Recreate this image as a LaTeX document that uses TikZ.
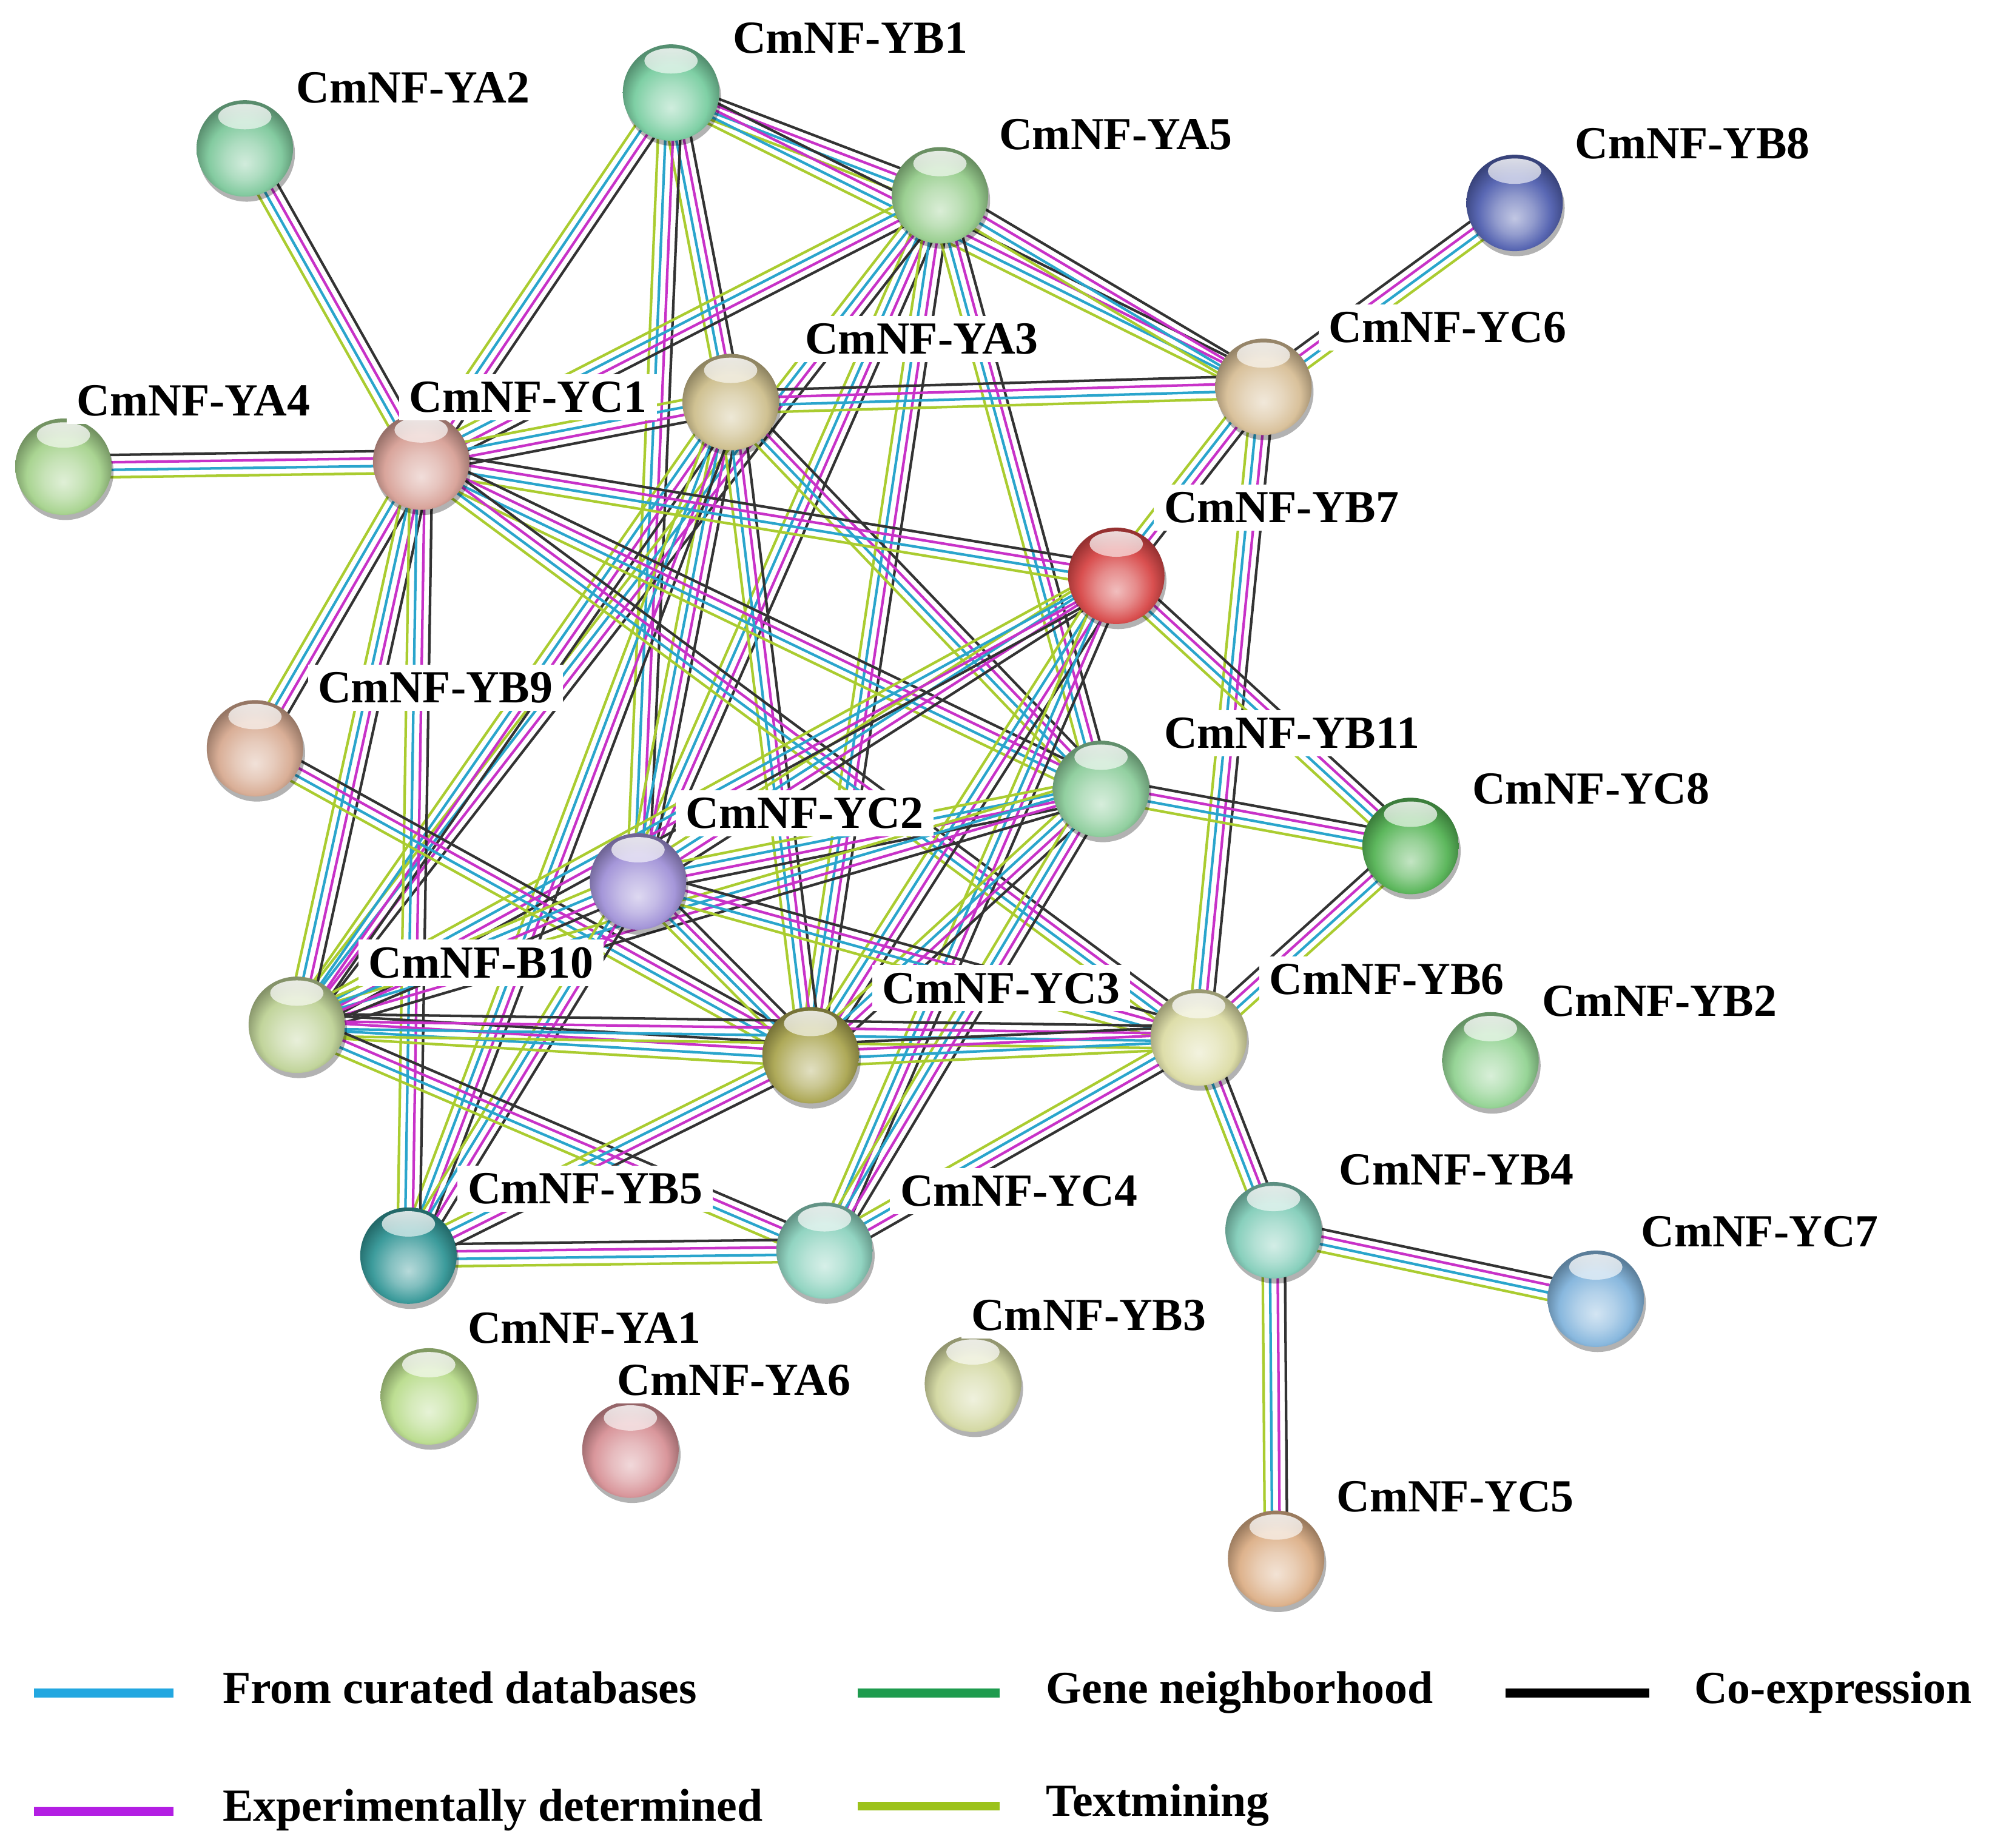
\documentclass[tikz,border=0pt]{standalone}
\usepackage{fontspec}
\setmainfont{Liberation Serif}
\usetikzlibrary{calc,fadings}

\definecolor{ecoexc}{HTML}{333333}
\definecolor{eexpc}{HTML}{C832C8}
\definecolor{ecurc}{HTML}{2AA5CC}
\definecolor{etxtc}{HTML}{AACC30}
\definecolor{lcur}{HTML}{22A7E0}
\definecolor{lgen}{HTML}{1E9B4E}
\definecolor{lexp}{HTML}{B31EE3}
\definecolor{ltxt}{HTML}{9CC21B}

\definecolor{cYB1}{RGB}{120,205,160}
\definecolor{cYA2}{RGB}{125,200,155}
\definecolor{cYA5}{RGB}{150,205,140}
\definecolor{cYB8}{RGB}{80,95,175}
\definecolor{cYC6}{RGB}{215,190,150}
\definecolor{cYA3}{RGB}{205,190,140}
\definecolor{cYA4}{RGB}{165,210,140}
\definecolor{cYC1}{RGB}{215,160,150}
\definecolor{cYB7}{RGB}{215,70,70}
\definecolor{cYB9}{RGB}{215,170,145}
\definecolor{cYB11}{RGB}{140,205,155}
\definecolor{cYC8}{RGB}{85,180,85}
\definecolor{cYC2}{RGB}{160,145,215}
\definecolor{cB10}{RGB}{190,210,150}
\definecolor{cYC3}{RGB}{170,165,80}
\definecolor{cYB6}{RGB}{220,220,165}
\definecolor{cYB2}{RGB}{145,210,145}
\definecolor{cYB5}{RGB}{50,150,150}
\definecolor{cYC4}{RGB}{140,210,190}
\definecolor{cYB4}{RGB}{130,205,185}
\definecolor{cYC7}{RGB}{130,180,220}
\definecolor{cYA1}{RGB}{185,220,140}
\definecolor{cYA6}{RGB}{215,145,150}
\definecolor{cYB3}{RGB}{210,215,160}
\definecolor{cYC5}{RGB}{220,175,135}

\colorlet{mycol}{gray}
\pgfdeclareradialshading[mycol]{glossy}{\pgfpoint{0bp}{-8bp}}{%
 color(0bp)=(mycol!35!white); color(10bp)=(mycol!62!white); color(19bp)=(mycol!95!white); color(27bp)=(mycol!70!black); color(50bp)=(mycol!70!black)}
\tikzfading[name=hlfade, top color=transparent!15, bottom color=transparent!100]

\pgfdeclarelayer{bgl}\pgfdeclarelayer{edgel}\pgfdeclarelayer{shl}\pgfdeclarelayer{lab}
\pgfsetlayers{bgl,edgel,shl,main,lab}

\newcommand{\lnk}[2]{%
 \draw[stco] ($(#1)!2.5pt!90:(#2)$) -- ($(#2)!2.5pt!-90:(#1)$);
 \draw[stex] ($(#1)!0.85pt!90:(#2)$) -- ($(#2)!0.85pt!-90:(#1)$);
 \draw[stcu] ($(#1)!0.85pt!-90:(#2)$) -- ($(#2)!0.85pt!90:(#1)$);
 \draw[sttx] ($(#1)!2.5pt!-90:(#2)$) -- ($(#2)!2.5pt!90:(#1)$);
}

\tikzset{
 stco/.style={draw=ecoexc, line width=0.58pt},
 stex/.style={draw=eexpc, line width=0.58pt},
 stcu/.style={draw=ecurc, line width=0.58pt},
 sttx/.style={draw=etxtc, line width=0.58pt},
 prot/.style={circle, inner sep=0pt, minimum size=0.76cm,
   /utils/exec={\colorlet{mycol}{#1}}, shade, shading=glossy,
   path picture={\fill[white, path fading=hlfade] ([yshift=-0.13cm]path picture bounding box.north) ellipse (0.21cm and 0.1cm);}},
 lbl/.style={fill=white, inner xsep=0.08cm, inner ysep=0.06cm, anchor=base west,
   font=\fontsize{10.3}{12}\selectfont\bfseries},
 lgd/.style={inner sep=0pt, anchor=base west, font=\fontsize{10.3}{12}\selectfont\bfseries},
 lgline/.style={line width=0.07cm},
}

\begin{document}
\begin{tikzpicture}[x=0.01cm,y=-0.01cm]
\useasboundingbox (0,0) rectangle (1568,1457);
\begin{pgfonlayer}{bgl}
\fill[white] (0,0) rectangle (1568,1457);
\end{pgfonlayer}

% proteins
\node[prot=cYB1] (YB1) at (529,73) {};
\node[prot=cYA2] (YA2) at (193,117) {};
\node[prot=cYA5] (YA5) at (741,154) {};
\node[prot=cYB8] (YB8) at (1194,160) {};
\node[prot=cYC6] (YC6) at (996,305) {};
\node[prot=cYA3] (YA3) at (576,317) {};
\node[prot=cYA4] (YA4) at (50,368) {};
\node[prot=cYC1] (YC1) at (332,364) {};
\node[prot=cYB7] (YB7) at (880,454) {};
\node[prot=cYB9] (YB9) at (201,590) {};
\node[prot=cYB11] (YB11) at (868,622) {};
\node[prot=cYC8] (YC8) at (1112,667) {};
\node[prot=cYC2] (YC2) at (503,695) {};
\node[prot=cB10] (B10) at (234,808) {};
\node[prot=cYC3] (YC3) at (639,832) {};
\node[prot=cYB6] (YB6) at (945,818) {};
\node[prot=cYB2] (YB2) at (1175,836) {};
\node[prot=cYB5] (YB5) at (322,990) {};
\node[prot=cYC4] (YC4) at (650,986) {};
\node[prot=cYB4] (YB4) at (1004,970) {};
\node[prot=cYC7] (YC7) at (1258,1024) {};
\node[prot=cYA1] (YA1) at (338,1101) {};
\node[prot=cYA6] (YA6) at (497,1143) {};
\node[prot=cYB3] (YB3) at (767,1091) {};
\node[prot=cYC5] (YC5) at (1006,1229) {};

% shadows
\begin{pgfonlayer}{shl}
\foreach \n in {YB1,YA2,YA5,YB8,YC6,YA3,YA4,YC1,YB7,YB9,YB11,YC8,YC2,B10,YC3,YB6,YB2,YB5,YC4,YB4,YC7,YA1,YA6,YB3,YC5}{
  \fill[black, opacity=0.3] ([shift={(1.5,4)}]\n.center) circle (0.38cm);
}
\end{pgfonlayer}

% edges
\begin{pgfonlayer}{edgel}
\foreach \a/\b in {YA2/YC1, YA4/YC1, YB1/YC1, YB1/YA5, YB1/YA3, YB1/YC2, YB1/YC6,
  YA5/YC6, YA5/YC1, YA5/YC2, YA5/YC3, YA5/YB11, YA5/B10,
  YA3/YC1, YA3/YC6, YA3/YC2, YA3/YC3, YA3/B10, YA3/YB5, YA3/YB11,
  YC1/YB7, YC1/YB11, YC1/YB9, YC1/B10, YC1/YB5, YC1/YB6,
  YC6/YB7, YC6/YB6, YC6/YB8,
  YB7/YC2, YB7/YC3, YB7/YC8, YB7/YC4, YB7/B10,
  YB9/YC3,
  YB11/YC2, YB11/YC8, YB11/YC3, YB11/YC4, YB11/B10,
  YC2/YC3, YC2/YB6, YC2/B10, YC2/YB5,
  B10/YC3, B10/YB6, B10/YC4,
  YC3/YB6, YC3/YB5, YB5/YC4,
  YB6/YC8, YB6/YB4, YB6/YC4, YB4/YC7, YB4/YC5}{
  \lnk{\a}{\b}
}
\end{pgfonlayer}

% labels
\begin{pgfonlayer}{lab}
\node[lbl] (tYB1) at (569,42) {CmNF-YB1};
\node[lbl] (tYA2) at (225,81) {CmNF-YA2};
\node[lbl] (tYA5) at (779,118) {CmNF-YA5};
\node[lbl] (tYB8) at (1233,125) {CmNF-YB8};
\node[lbl] (tYC6) at (1039,270) {CmNF-YC6};
\node[lbl] (tYA3) at (626,279) {CmNF-YA3};
\node[lbl] (tYA4) at (52,328) {CmNF-YA4};
\node[lbl] (tYC1) at (314,325) {CmNF-YC1};
\node[lbl] (tYB7) at (909,412) {CmNF-YB7};
\node[lbl] (tYB9) at (242,554) {CmNF-YB9};
\node[lbl] (tYB11) at (909,590) {CmNF-YB11};
\node[lbl] (tYC8) at (1152,634) {CmNF-YC8};
\node[lbl] (tYC2) at (532,653) {CmNF-YC2};
\node[lbl] (tB10) at (282,771) {CmNF-B10};
\node[lbl] (tYC3) at (687,791) {CmNF-YC3};
\node[lbl] (tYB6) at (992,784) {CmNF-YB6};
\node[lbl] (tYB2) at (1207,801) {CmNF-YB2};
\node[lbl] (tYB4) at (1047,934) {CmNF-YB4};
\node[lbl] (tYB5) at (360,949) {CmNF-YB5};
\node[lbl] (tYC4) at (701,951) {CmNF-YC4};
\node[lbl] (tYC7) at (1285,983) {CmNF-YC7};
\node[lbl] (tYA1) at (360,1059) {CmNF-YA1};
\node[lbl] (tYB3) at (757,1049) {CmNF-YB3};
\node[lbl] (tYA6) at (478,1100) {CmNF-YA6};
\node[lbl] (tYC5) at (1045,1192) {CmNF-YC5};
\end{pgfonlayer}

% legend
\draw[lgline, lcur] (27,1335) -- (137,1335);
\node[lgd] (lg1) at (175,1343) {From curated databases};
\draw[lgline, lgen] (676,1335) -- (788,1335);
\node[lgd] (lg2) at (824,1343) {Gene neighborhood};
\draw[lgline, black] (1187,1335) -- (1300,1335);
\node[lgd] (lg3) at (1335,1343) {Co-expression};
\draw[lgline, lexp] (27,1428) -- (137,1428);
\node[lgd] (lg4) at (175,1436) {Experimentally determined};
\draw[lgline, ltxt] (676,1424) -- (788,1424);
\node[lgd] (lg5) at (824,1432) {Textmining};
\end{tikzpicture}
\end{document}
